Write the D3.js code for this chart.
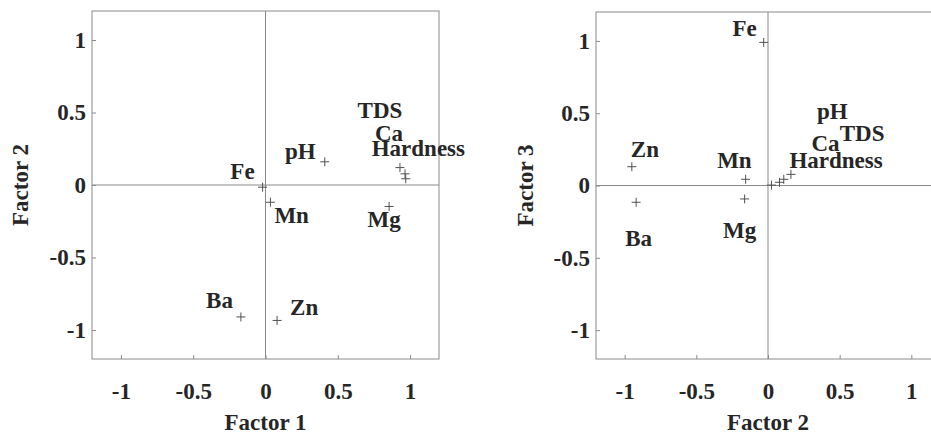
<!DOCTYPE html>
<html>
<head>
<meta charset="utf-8">
<script src="https://cdn.jsdelivr.net/npm/d3@7"></script>
<style>
  body { margin: 0; background: #fff; }
  svg text { font-family: "Liberation Serif", "Times New Roman", serif; font-weight: bold; }
</style>
</head>
<body>
<div id="chart"></div>
<script>
// variable names (same order in every array below)
var variables = ["pH", "TDS", "Ca", "Hardness", "Mg", "Fe", "Mn", "Zn", "Ba"];

// left plot: Factor 1 vs Factor 2
var plot1Factor1 = [0.41, 0.93, 0.965, 0.97, 0.855, -0.02, 0.034, 0.08, -0.17];
var plot1Factor2 = [0.16, 0.12, 0.077, 0.043, -0.148, -0.015, -0.119, -0.934, -0.91];

// right plot: Factor 2 vs Factor 3
var plot2Factor2 = [0.16, 0.11, 0.08, 0.024, -0.163, -0.03, -0.156, -0.95, -0.92];
var plot2Factor3 = [0.077, 0.043, 0.022, 0.003, -0.093, 0.99, 0.043, 0.13, -0.116];

var tickValues = [-1, -0.5, 0, 0.5, 1];
var tickLabels = ["-1", "-0.5", "0", "0.5", "1"];
var axisDomain = [-1.2, 1.2];

// label placement relative to each marker: [dx, dy, anchor]
var labelOffsets1 = {
    "pH": [-9, -3, "end"], "TDS": [-20, -50, "middle"], "Ca": [-16, -33, "middle"],
    "Hardness": [-34, -23, "start"], "Mg": [-5, 21, "middle"], "Fe": [-8, -8, "end"],
    "Mn": [4, 21, "start"], "Zn": [13, -5, "start"], "Ba": [-8, -9, "end"]
};
var labelOffsets2 = {
    "pH": [26, -55, "start"], "TDS": [56, -38, "start"], "Ca": [32, -31, "start"],
    "Hardness": [18, -17, "start"], "Mg": [-5, 39, "middle"], "Fe": [-7, -6, "end"],
    "Mn": [6, -11, "end"], "Zn": [-1, -10, "start"], "Ba": [-11, 44, "start"]
};

var width = 931, height = 437;
var svg = d3.select("#chart").append("svg")
    .attr("width", width)
    .attr("height", height);

var frameColor = "#8a8a8a", textColor = "#262626", markColor = "#505050";
var fontSize = "23px";

function drawPanel(opts) {
    var x = d3.scaleLinear().domain(axisDomain).range([opts.left, opts.right]);
    var y = d3.scaleLinear().domain(axisDomain).range([opts.bottom, opts.top]);
    var g = svg.append("g");

    // frame
    g.append("rect")
        .attr("x", opts.left).attr("y", opts.top)
        .attr("width", opts.right - opts.left)
        .attr("height", opts.bottom - opts.top)
        .attr("fill", "none").attr("stroke", frameColor);

    // zero lines
    g.append("line")
        .attr("x1", opts.left).attr("x2", opts.right)
        .attr("y1", y(0)).attr("y2", y(0))
        .attr("stroke", frameColor);
    g.append("line")
        .attr("x1", x(0)).attr("x2", x(0))
        .attr("y1", opts.top).attr("y2", opts.bottom)
        .attr("stroke", frameColor);

    // axes
    var xAxis = g.append("g")
        .attr("transform", "translate(0," + opts.bottom + ")")
        .call(d3.axisBottom(x).tickValues(tickValues)
            .tickFormat(function (d, i) { return tickLabels[i]; })
            .tickSize(-4).tickPadding(24));
    var yAxis = g.append("g")
        .attr("transform", "translate(" + opts.left + ",0)")
        .call(d3.axisLeft(y).tickValues(tickValues)
            .tickFormat(function (d, i) { return tickLabels[i]; })
            .tickSize(-4).tickPadding(6));
    [xAxis, yAxis].forEach(function (a) {
        a.select(".domain").remove();
        a.selectAll("line").attr("stroke", frameColor);
        a.selectAll("text")
            .attr("fill", textColor)
            .style("font-size", fontSize);
    });

    // axis titles
    g.append("text")
        .attr("x", (opts.left + Math.min(opts.right, opts.left + 347)) / 2)
        .attr("y", 430)
        .attr("text-anchor", "middle")
        .attr("fill", textColor)
        .style("font-size", fontSize)
        .text(opts.xTitle);
    g.append("text")
        .attr("transform", "translate(" + opts.yTitleX + "," + (opts.top + opts.bottom) / 2 + ")rotate(-90)")
        .attr("text-anchor", "middle")
        .attr("fill", textColor)
        .style("font-size", fontSize)
        .text(opts.yTitle);

    var pts = variables.map(function (v, i) {
        return { name: v, x: opts.xs[i], y: opts.ys[i] };
    });

    // plus markers
    g.selectAll("path.mark")
        .data(pts)
        .enter()
        .append("path")
        .attr("class", "mark")
        .attr("transform", function (d) { return "translate(" + x(d.x) + "," + y(d.y) + ")"; })
        .attr("d", "M-4.5,0H4.5M0,-4.5V4.5")
        .attr("stroke", markColor)
        .attr("fill", "none");

    // labels
    g.selectAll("text.lbl")
        .data(pts)
        .enter()
        .append("text")
        .attr("class", "lbl")
        .attr("x", function (d) { return x(d.x) + opts.offsets[d.name][0]; })
        .attr("y", function (d) { return y(d.y) + opts.offsets[d.name][1]; })
        .attr("text-anchor", function (d) { return opts.offsets[d.name][2]; })
        .attr("fill", textColor)
        .style("font-size", fontSize)
        .text(function (d) { return d.name; });
}

drawPanel({
    left: 92, right: 439, top: 11, bottom: 359,
    xs: plot1Factor1, ys: plot1Factor2, offsets: labelOffsets1,
    xTitle: "Factor 1", yTitle: "Factor 2", yTitleX: 28
});
drawPanel({
    left: 596, right: 940, top: 12, bottom: 359,
    xs: plot2Factor2, ys: plot2Factor3, offsets: labelOffsets2,
    xTitle: "Factor 2", yTitle: "Factor 3", yTitleX: 533
});
</script>
</body>
</html>
